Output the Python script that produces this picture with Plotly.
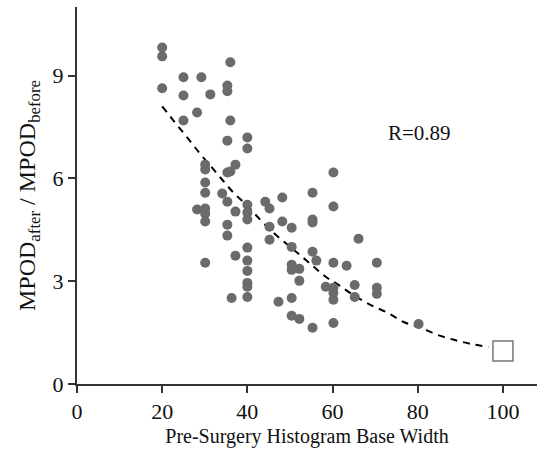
import plotly.graph_objects as go

# Scatter data (pre-surgery histogram base width, MPOD ratio)
width = [20, 20, 20, 25, 25, 25, 28.2, 29.2, 31.3, 35.3, 35.3, 35.3, 36, 36, 40, 40,
         30.1, 30.1, 30.1, 30.1, 30.1, 30.1, 30.1, 30.1, 28.2, 34.1,
         35.3, 35.3, 35.3, 35.3, 36, 37.2, 37.2, 37.2,
         40, 40, 40, 40, 40, 40, 40, 40, 40, 36.3,
         44.2, 45.2, 45.2, 45.2, 48.2, 48.2,
         50.4, 50.4, 50.4, 50.4, 50.4, 50.4,
         55.3, 55.3, 55.3, 55.3, 55.3, 56.2,
         60.2, 60.2, 60.2, 60.2, 60.2, 60.2, 60.2,
         63.3, 66.1, 52.2, 52.2, 52.2, 58.4, 65.2, 65.2, 47.3,
         70.4, 70.4, 70.4, 80.2]
ratio = [9.82, 9.56, 8.63, 8.95, 8.42, 7.69, 7.92, 8.95, 8.45, 8.71, 8.54, 7.10, 9.39, 7.69, 7.19, 6.87,
         6.40, 6.26, 5.88, 5.58, 5.12, 4.97, 4.74, 3.54, 5.09, 5.56,
         5.32, 4.65, 4.33, 6.17, 6.20, 6.40, 5.03, 3.74,
         5.23, 5.00, 4.80, 3.98, 3.60, 3.30, 2.95, 2.84, 2.54, 2.51,
         5.32, 5.12, 4.59, 4.21, 5.44, 4.74,
         4.56, 4.00, 3.48, 3.33, 2.51, 1.99,
         5.58, 4.80, 4.71, 3.86, 1.64, 3.60,
         6.17, 5.18, 3.54, 2.81, 2.66, 2.46, 1.78,
         3.45, 4.24, 3.36, 3.01, 1.90, 2.84, 2.89, 2.54, 2.40,
         3.54, 2.81, 2.63, 1.75]

# Fitted curve
fit_x = [20, 23, 25.9, 28.5, 31.3, 34.1, 36.9, 40, 42.6, 45.9, 48.9, 52, 55.3, 58.4, 61.4,
         65.2, 68.9, 72.9, 76.7, 80.7, 84.7, 88.5, 92.5, 96.7]
fit_y = [8.10, 7.63, 7.19, 6.78, 6.37, 5.96, 5.56, 5.20, 4.85, 4.44, 4.12, 3.80, 3.45, 3.13, 2.89,
         2.57, 2.31, 2.08, 1.81, 1.64, 1.43, 1.29, 1.17, 1.08]

# Reference point
ref_x = [100]
ref_y = [0.96]

x_ticks = [0, 20, 40, 60, 80, 100]
y_ticks = [0, 3, 6, 9]

FONT = "Liberation Serif, Times New Roman, serif"

fig = go.Figure()
fig.add_trace(go.Scatter(x=fit_x, y=fit_y, mode="lines", line_shape="spline",
                         line=dict(color="black", width=2, dash="7px,6px"),
                         hoverinfo="skip", showlegend=False))
fig.add_trace(go.Scatter(x=width, y=ratio, mode="markers",
                         marker=dict(color="#6b6b6b", size=10, line=dict(width=0)),
                         showlegend=False))
fig.add_trace(go.Scatter(x=ref_x, y=ref_y, mode="markers",
                         marker=dict(symbol="square", color="white", size=20,
                                     line=dict(color="#777777", width=1.5)),
                         showlegend=False))

fig.add_annotation(x=80.5, y=7.32, text="R=0.89", showarrow=False,
                   font=dict(family=FONT, size=21, color="#111111"))

fig.update_layout(
    width=537, height=450,
    margin=dict(l=77, r=0, t=7, b=66),
    paper_bgcolor="white", plot_bgcolor="white",
    font=dict(family=FONT, size=22, color="#111111"),
    xaxis=dict(range=[0, 108], tickvals=x_ticks, showline=True, linecolor="#333333",
               linewidth=2, ticks="outside", ticklen=7, tickwidth=2, tickcolor="#333333",
               showgrid=False, zeroline=False, tickfont=dict(size=22),
               title=dict(text="Pre-Surgery Histogram Base Width", standoff=6,
                          font=dict(size=20))),
    yaxis=dict(range=[0, 11], tickvals=y_ticks, showline=True, linecolor="#333333",
               linewidth=2, ticks="outside", ticklen=7, tickwidth=2, tickcolor="#333333",
               showgrid=False, zeroline=False, tickfont=dict(size=22),
               title=dict(text="MPOD<sub>after</sub> / MPOD<sub>before</sub>", standoff=10,
                          font=dict(size=24))),
)

fig.write_html("out.html")
